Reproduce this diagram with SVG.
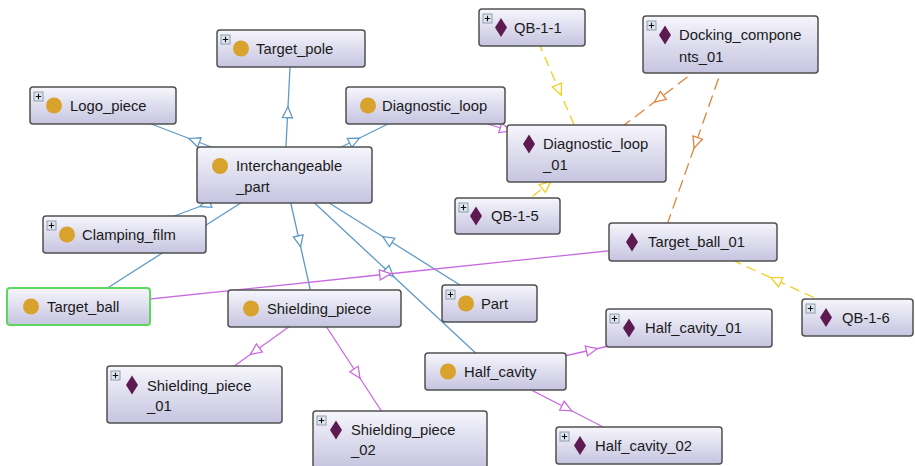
<svg xmlns="http://www.w3.org/2000/svg" xmlns:xlink="http://www.w3.org/1999/xlink" width="915" height="466" viewBox="0 0 915 466">
<style>
.node{fill:url(#ng);stroke:#505050;stroke-width:1.5}
.sel{stroke:#5fd65f;stroke-width:2}
.lbl{font-family:"Liberation Sans",Arial,sans-serif;font-size:14.8px;fill:#1a1a1a}
.e{fill:none;stroke-width:1.3}
.blue{stroke:#5f9ac6;marker-mid:url(#mb)}
.pur{stroke:#c86ae0;marker-mid:url(#mp)}
.yel{stroke:#f2cf22;stroke-dasharray:10 6;marker-mid:url(#my)}
.ora{stroke:#e0843c;stroke-dasharray:12 6;marker-mid:url(#mo)}
</style>
<defs>
<linearGradient id="ng" x1="0" y1="0" x2="0" y2="1">
<stop offset="0" stop-color="#f6f6fc"/>
<stop offset="1" stop-color="#c6c4e0"/>
</linearGradient>
<marker id="mb" viewBox="-8 -8 16 16" markerWidth="16" markerHeight="16" refX="0" refY="0" orient="auto" markerUnits="userSpaceOnUse"><path d="M5,0 L-6,-5 L-6,5 Z" fill="#fff" stroke="#5f9ac6" stroke-width="1.3"/></marker>
<marker id="mp" viewBox="-8 -8 16 16" markerWidth="16" markerHeight="16" refX="0" refY="0" orient="auto" markerUnits="userSpaceOnUse"><path d="M5,0 L-6,-5 L-6,5 Z" fill="#fff" stroke="#c86ae0" stroke-width="1.3"/></marker>
<marker id="my" viewBox="-8 -8 16 16" markerWidth="16" markerHeight="16" refX="0" refY="0" orient="auto" markerUnits="userSpaceOnUse"><path d="M5,0 L-6,-5 L-6,5 Z" fill="#fff" stroke="#f2cf22" stroke-width="1.3"/></marker>
<marker id="mo" viewBox="-8 -8 16 16" markerWidth="16" markerHeight="16" refX="0" refY="0" orient="auto" markerUnits="userSpaceOnUse"><path d="M5,0 L-6,-5 L-6,5 Z" fill="#fff" stroke="#e0843c" stroke-width="1.3"/></marker>
<g id="cls"><circle cx="0" cy="0" r="8" fill="#d8a22c"/></g>
<g id="dia"><polygon points="0,-9.5 6,0 0,9.5 -6,0" fill="#5c1a50"/></g>
<g id="plus"><rect x="0" y="0" width="9" height="9" fill="#dde5ee" stroke="#7d8c9c" stroke-width="0.8"/><path d="M4.5,1.8 V7.2 M1.8,4.5 H7.2" stroke="#111" stroke-width="1.1"/></g>
</defs>
<rect width="915" height="466" fill="#fff"/>
<g id="connectors">
<path class="e blue" d="M284.5,175 L287.75,111.75 L291,48.5"/>
<path class="e blue" d="M284.5,175 L193.75,140.25 L103,105.5"/>
<path class="e blue" d="M284.5,175 L355,140.25 L425.5,105.5"/>
<path class="e blue" d="M284.5,175 L204.5,204.75 L124.5,234.5"/>
<path class="e blue" d="M284.5,175 L181.5,240.75 L78.5,306.5"/>
<path class="e blue" d="M284.5,175 L299.5,241.75 L314.5,308.5"/>
<path class="e blue" d="M284.5,175 L390,273.25 L495.5,371.5"/>
<path class="e blue" d="M489.5,303.5 L387,239.25 L284.5,175"/>
<path class="e pur" d="M78.5,306.5 L385.75,274.25 L693,242"/>
<path class="e pur" d="M425.5,105.5 L506,129.5 L586.5,153.5"/>
<path class="e pur" d="M314.5,308.5 L254.5,351.5 L194.5,394.5"/>
<path class="e pur" d="M314.5,308.5 L357.25,374 L400,439.5"/>
<path class="e pur" d="M495.5,371.5 L592.25,349.75 L689,328"/>
<path class="e pur" d="M495.5,371.5 L567.25,408.5 L639,445.5"/>
<path class="e yel" d="M532,27.5 L559.25,90.5 L586.5,153.5"/>
<path class="e yel" d="M507.5,216 L547,184.75 L586.5,153.5"/>
<path class="e yel" d="M857.5,317.5 L775.25,279.75 L693,242"/>
<path class="e ora" d="M730.5,44.5 L658.5,99 L586.5,153.5"/>
<path class="e ora" d="M730.5,44.5 L695.75,143.25 L661,242"/>
</g>
<g id="Target_pole"><rect class="node" x="217" y="30" width="148" height="37" rx="3"/><use href="#plus" x="221" y="35"/><use href="#cls" x="241" y="48.5"/><text class="lbl" x="256" y="54">Target_pole</text></g>
<g id="Logo_piece"><rect class="node" x="30" y="87" width="146" height="37" rx="3"/><use href="#plus" x="34" y="92"/><use href="#cls" x="54" y="105.5"/><text class="lbl" x="70" y="111">Logo_piece</text></g>
<g id="Diagnostic_loop"><rect class="node" x="346" y="87" width="159" height="37" rx="3"/><use href="#cls" x="368" y="105.5"/><text class="lbl" x="382" y="111">Diagnostic_loop</text></g>
<g id="Interchangeable_part"><rect class="node" x="197" y="147" width="175" height="56" rx="3"/><use href="#cls" x="220" y="166"/><text class="lbl" x="236" y="171">Interchangeable</text><text class="lbl" x="236" y="192">_part</text></g>
<g id="Clamping_film"><rect class="node" x="43" y="216" width="163" height="37" rx="3"/><use href="#plus" x="47" y="221"/><use href="#cls" x="67" y="234.5"/><text class="lbl" x="82" y="240">Clamping_film</text></g>
<g id="Target_ball"><rect class="node sel" x="7" y="288" width="143" height="37" rx="3"/><use href="#cls" x="31" y="306.5"/><text class="lbl" x="47" y="312">Target_ball</text></g>
<g id="Shielding_piece"><rect class="node" x="228" y="290" width="173" height="37" rx="3"/><use href="#cls" x="251" y="308.5"/><text class="lbl" x="267" y="314">Shielding_piece</text></g>
<g id="Part"><rect class="node" x="442" y="285" width="95" height="37" rx="3"/><use href="#plus" x="446" y="290"/><use href="#cls" x="466" y="303.5"/><text class="lbl" x="481" y="309">Part</text></g>
<g id="Half_cavity"><rect class="node" x="425" y="353" width="141" height="37" rx="3"/><use href="#cls" x="448" y="371.5"/><text class="lbl" x="464" y="377">Half_cavity</text></g>
<g id="QB-1-1"><rect class="node" x="479" y="9" width="106" height="37" rx="3"/><use href="#plus" x="483" y="14"/><use href="#dia" x="501" y="27.5"/><text class="lbl" x="514" y="33">QB-1-1</text></g>
<g id="Docking_components_01"><rect class="node" x="643" y="16" width="175" height="57" rx="3"/><use href="#plus" x="647" y="21"/><use href="#dia" x="665" y="35"/><text class="lbl" x="679" y="40">Docking_compone</text><text class="lbl" x="679" y="62">nts_01</text></g>
<g id="Diagnostic_loop_01"><rect class="node" x="507" y="125" width="159" height="57" rx="3"/><use href="#dia" x="529" y="144"/><text class="lbl" x="543" y="149">Diagnostic_loop</text><text class="lbl" x="543" y="170">_01</text></g>
<g id="QB-1-5"><rect class="node" x="455" y="198" width="105" height="36" rx="3"/><use href="#plus" x="459" y="203"/><use href="#dia" x="476" y="216"/><text class="lbl" x="491" y="221">QB-1-5</text></g>
<g id="Target_ball_01"><rect class="node" x="609" y="223" width="168" height="38" rx="3"/><use href="#dia" x="632" y="242"/><text class="lbl" x="648" y="247">Target_ball_01</text></g>
<g id="QB-1-6"><rect class="node" x="802" y="299" width="111" height="37" rx="3"/><use href="#plus" x="806" y="304"/><use href="#dia" x="826" y="317.5"/><text class="lbl" x="842" y="323">QB-1-6</text></g>
<g id="Half_cavity_01"><rect class="node" x="606" y="309" width="166" height="38" rx="3"/><use href="#plus" x="610" y="314"/><use href="#dia" x="629" y="328"/><text class="lbl" x="645" y="333">Half_cavity_01</text></g>
<g id="Half_cavity_02"><rect class="node" x="556" y="427" width="166" height="37" rx="3"/><use href="#plus" x="560" y="432"/><use href="#dia" x="580" y="445.5"/><text class="lbl" x="595" y="451">Half_cavity_02</text></g>
<g id="Shielding_piece_01"><rect class="node" x="107" y="366" width="175" height="57" rx="3"/><use href="#plus" x="111" y="371"/><use href="#dia" x="132" y="385"/><text class="lbl" x="147" y="391">Shielding_piece</text><text class="lbl" x="147" y="411">_01</text></g>
<g id="Shielding_piece_02"><rect class="node" x="313" y="411" width="174" height="57" rx="3"/><use href="#plus" x="317" y="416"/><use href="#dia" x="336" y="430"/><text class="lbl" x="351" y="435">Shielding_piece</text><text class="lbl" x="351" y="455">_02</text></g>
</svg>
